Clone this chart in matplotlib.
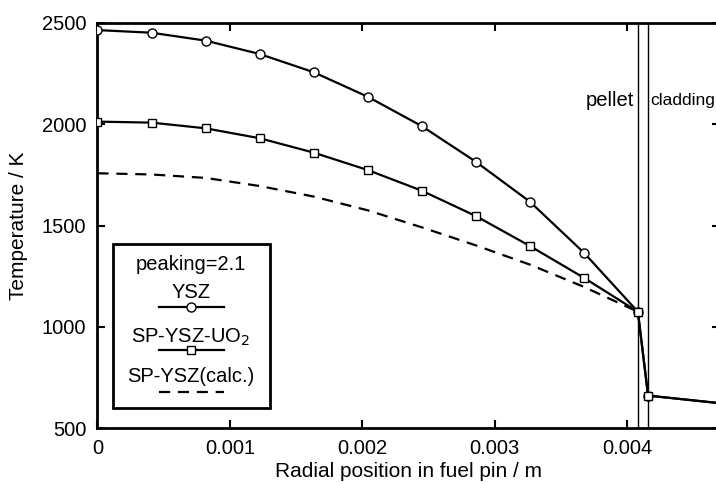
import matplotlib
matplotlib.use("Agg")
import matplotlib.pyplot as plt
from matplotlib.lines import Line2D
from matplotlib.patches import Rectangle
import numpy as np

plt.rcParams['font.family'] = ['Liberation Sans', 'DejaVu Sans']

# radial positions (m)
r_pellet = [0.0, 0.000408, 0.000816, 0.001224, 0.001632, 0.00204, 0.002448,
            0.002856, 0.003264, 0.003672, 0.00408]
r_clad = [0.004157, 0.00475]

# temperatures (K)
T_ysz = [2465, 2452, 2413, 2347, 2257, 2136, 1991, 1815, 1618, 1366, 1074]
T_spuo2 = [2013, 2008, 1980, 1931, 1860, 1774, 1672, 1547, 1399, 1242, 1074]
T_calc = [1758, 1752, 1735, 1695, 1643, 1575, 1491, 1402, 1307, 1197, 1074]
T_clad = [660, 619]

r_pellet_edge = 0.00408
r_clad_inner = 0.004157

xticks = [0, 0.001, 0.002, 0.003, 0.004]
xticklabels = ["0", "0.001", "0.002", "0.003", "0.004"]
yticks = [500, 1000, 1500, 2000, 2500]

fig = plt.figure(figsize=(7.16, 4.83), dpi=100)
ax = fig.add_axes([97.5/716, 1-428/483, (720-97.5)/716, (428-23)/483])

lw = 1.6
ax.plot(r_pellet + r_clad, T_ysz + T_clad, color='black', lw=lw,
        marker='o', ms=6.5, mfc='white', mec='black', mew=1.0, zorder=3)
ax.plot(r_pellet + r_clad, T_spuo2 + T_clad, color='black', lw=lw,
        marker='s', ms=6, mfc='white', mec='black', mew=1.0, zorder=4)
ax.plot(r_pellet, T_calc, color='black', lw=lw, dashes=(5, 3.5), zorder=2)

ax.axvline(r_pellet_edge, color='black', lw=1.0, zorder=1)
ax.axvline(r_clad_inner, color='black', lw=1.0, zorder=1)

ax.set_xlim(0, 0.0047)
ax.set_ylim(500, 2500)
ax.set_xticks(xticks)
ax.set_xticklabels(xticklabels)
ax.set_yticks(yticks)
ax.tick_params(direction='in', length=6, width=1.5, labelsize=14.5,
               top=True, right=True)
ax.tick_params(axis='x', pad=8)
ax.tick_params(axis='y', pad=8)
for s in ax.spines.values():
    s.set_linewidth(2.0)

ax.set_xlabel("Radial position in fuel pin / m", fontsize=15, labelpad=3)
ax.set_ylabel("Temperature / K", fontsize=15, labelpad=10)

def ax_x(px):
    return (px-97.5)/622.5
def ax_y(py):
    return 1-(py-23)/405

ax.text(ax_x(634), ax_y(100), "pellet",
        transform=ax.transAxes, ha='right', va='center', fontsize=14.5)
ax.text(ax_x(650), ax_y(100), "cladding",
        transform=ax.transAxes, ha='left', va='center', fontsize=12.5, clip_on=False)

# legend drawn manually (label above each handle)
ax.add_patch(Rectangle((ax_x(113), ax_y(408)), ax_x(270)-ax_x(113),
                       ax_y(244)-ax_y(408), transform=ax.transAxes,
                       fill=True, facecolor='white', edgecolor='black',
                       lw=2.0, zorder=5))
cx = ax_x(191)
fs_leg = 14.5
ax.text(cx, ax_y(265), "peaking=2.1", transform=ax.transAxes, ha='center',
        va='center', fontsize=fs_leg, zorder=6)
ax.text(cx, ax_y(292), "YSZ", transform=ax.transAxes, ha='center',
        va='center', fontsize=fs_leg, zorder=6)
ax.add_line(Line2D([ax_x(159), ax_x(224)], [ax_y(307)]*2, transform=ax.transAxes,
                   color='black', lw=lw, zorder=6))
ax.add_line(Line2D([cx], [ax_y(307)], transform=ax.transAxes, marker='o', ms=6.5,
                   mfc='white', mec='black', mew=1.0, zorder=7))
ax.text(cx, ax_y(337), "SP-YSZ-UO$_2$", transform=ax.transAxes, ha='center',
        va='center', fontsize=fs_leg, zorder=6)
ax.add_line(Line2D([ax_x(159), ax_x(224)], [ax_y(350)]*2, transform=ax.transAxes,
                   color='black', lw=lw, zorder=6))
ax.add_line(Line2D([cx], [ax_y(350)], transform=ax.transAxes, marker='s', ms=6,
                   mfc='white', mec='black', mew=1.0, zorder=7))
ax.text(cx, ax_y(377), "SP-YSZ(calc.)", transform=ax.transAxes, ha='center',
        va='center', fontsize=fs_leg, zorder=6)
ax.add_line(Line2D([ax_x(159), ax_x(224)], [ax_y(392)]*2, transform=ax.transAxes,
                   color='black', lw=lw, dashes=(5, 3.5), zorder=6))

fig.savefig("out.png", dpi=100)
